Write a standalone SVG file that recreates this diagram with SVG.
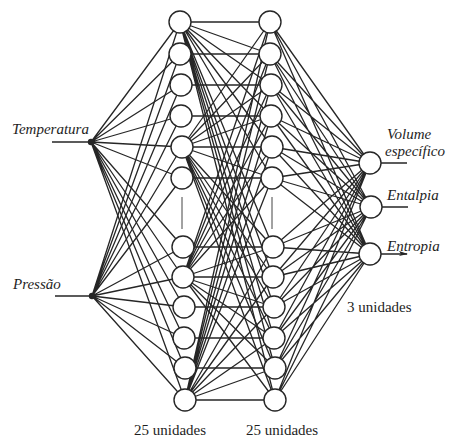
<svg xmlns="http://www.w3.org/2000/svg" width="449" height="438" viewBox="0 0 449 438">
<style>
.c{fill:none;stroke:#262626;stroke-width:1.3}
.n{fill:#fff;stroke:#262626;stroke-width:1.4}
.d{fill:#262626}
.t{font-family:"Liberation Serif","Times New Roman",serif;font-size:15px;fill:#1e1e1e}
.i{font-style:italic}
.v{stroke:#444;stroke-width:1}
</style>
<defs>
<marker id="ah" markerWidth="10" markerHeight="8" refX="8" refY="4" orient="auto" markerUnits="userSpaceOnUse">
<path d="M0,1 L9,4 L0,6 L2,4 z" fill="#262626"/>
</marker>
</defs>
<rect width="449" height="438" fill="#fff"/>
<g id="connectors">
<path class="c" d="M52 142L91 142M55 296L92 296"/>
<path class="c" d="M91 142L180 22M91 142L180 54M91 142L181 85M91 142L181 116M91 142L182 147M91 142L182 178M91 142L183 247M91 142L183 277M91 142L184 307M91 142L184 338M91 142L185 368M91 142L185 400"/>
<path class="c" d="M92 296L180 22M92 296L180 54M92 296L181 85M92 296L181 116M92 296L182 147M92 296L182 178M92 296L183 247M92 296L183 277M92 296L184 307M92 296L184 338M92 296L185 368M92 296L185 400"/>
<path class="c" d="M180 22L270 22M180 54L270 54M181 85L271 85M181 116L271 116M182 147L272 147M182 178L272 178M183 247L273 247M183 277L273 277M184 307L274 307M184 338L274 338M185 368L275 368M185 400L275 400"/>
<path class="c" d="M180 22L270 54M180 22L271 85M180 22L271 116M180 22L272 147M180 22L272 178M180 22L273 247M180 22L273 277M180 22L274 307M180 22L274 338M180 22L275 368M180 22L275 400"/>
<path class="c" d="M182 147L270 22M182 147L270 54M182 147L271 85M182 147L271 116M182 147L272 178M182 147L273 247M182 147L273 277M182 147L274 307M182 147L274 338M182 147L275 368M182 147L275 400"/>
<path class="c" d="M183 277L270 22M183 277L270 54M183 277L271 85M183 277L271 116M183 277L272 147M183 277L272 178M183 277L273 247M183 277L274 307M183 277L274 338M183 277L275 368M183 277L275 400"/>
<path class="c" d="M185 400L270 22M185 400L270 54M185 400L271 85M185 400L271 116M185 400L272 147M185 400L272 178M185 400L273 247M185 400L273 277M185 400L274 307M185 400L274 338M185 400L275 368"/>
<path class="c" d="M270 22L370 163M270 22L371 207M270 22L370 254M270 54L370 163M270 54L371 207M270 54L370 254M271 85L370 163M271 85L371 207M271 85L370 254M271 116L370 163M271 116L371 207M271 116L370 254M272 147L370 163M272 147L371 207M272 147L370 254M272 178L370 163M272 178L371 207M272 178L370 254"/>
<path class="c" d="M273 247L370 163M273 247L371 207M273 247L370 254M273 277L370 163M273 277L371 207M273 277L370 254M274 307L370 163M274 307L371 207M274 307L370 254M274 338L370 163M274 338L371 207M274 338L370 254M275 368L370 163M275 368L371 207M275 368L370 254M275 400L370 163M275 400L371 207M275 400L370 254"/>
<path class="c" d="M381 163L407 163M382 207L408 207M381 254L407 254" marker-end="url(#ah)"/>
<path class="v" d="M182 197L182 229M272 197L272 229"/>
</g>
<g id="in-temperatura"><circle class="d" cx="91" cy="142" r="3.2"/><text class="t i" x="12" y="134">Temperatura</text></g>
<g id="in-pressao"><circle class="d" cx="92" cy="296" r="3.2"/><text class="t i" x="13" y="289">Pressão</text></g>
<g id="hidden1">
<circle class="n" cx="180" cy="22" r="11"/><circle class="n" cx="180" cy="54" r="11"/><circle class="n" cx="181" cy="85" r="11"/><circle class="n" cx="181" cy="116" r="11"/><circle class="n" cx="182" cy="147" r="11"/><circle class="n" cx="182" cy="178" r="11"/>
<circle class="n" cx="183" cy="247" r="11"/><circle class="n" cx="183" cy="277" r="11"/><circle class="n" cx="184" cy="307" r="11"/><circle class="n" cx="184" cy="338" r="11"/><circle class="n" cx="185" cy="368" r="11"/><circle class="n" cx="185" cy="400" r="11"/>
<text class="t" x="134" y="435">25 unidades</text>
</g>
<g id="hidden2">
<circle class="n" cx="270" cy="22" r="11"/><circle class="n" cx="270" cy="54" r="11"/><circle class="n" cx="271" cy="85" r="11"/><circle class="n" cx="271" cy="116" r="11"/><circle class="n" cx="272" cy="147" r="11"/><circle class="n" cx="272" cy="178" r="11"/>
<circle class="n" cx="273" cy="247" r="11"/><circle class="n" cx="273" cy="277" r="11"/><circle class="n" cx="274" cy="307" r="11"/><circle class="n" cx="274" cy="338" r="11"/><circle class="n" cx="275" cy="368" r="11"/><circle class="n" cx="275" cy="400" r="11"/>
<text class="t" x="246" y="435">25 unidades</text>
</g>
<g id="out-volume"><circle class="n" cx="370" cy="163" r="11"/><text class="t i" x="387" y="139">Volume</text><text class="t i" x="385" y="156">específico</text></g>
<g id="out-entalpia"><circle class="n" cx="371" cy="207" r="11"/><text class="t i" x="387" y="200">Entalpia</text></g>
<g id="out-entropia"><circle class="n" cx="370" cy="254" r="11"/><text class="t i" x="387" y="251">Entropia</text></g>
<text class="t" x="347" y="312">3 unidades</text>
</svg>
